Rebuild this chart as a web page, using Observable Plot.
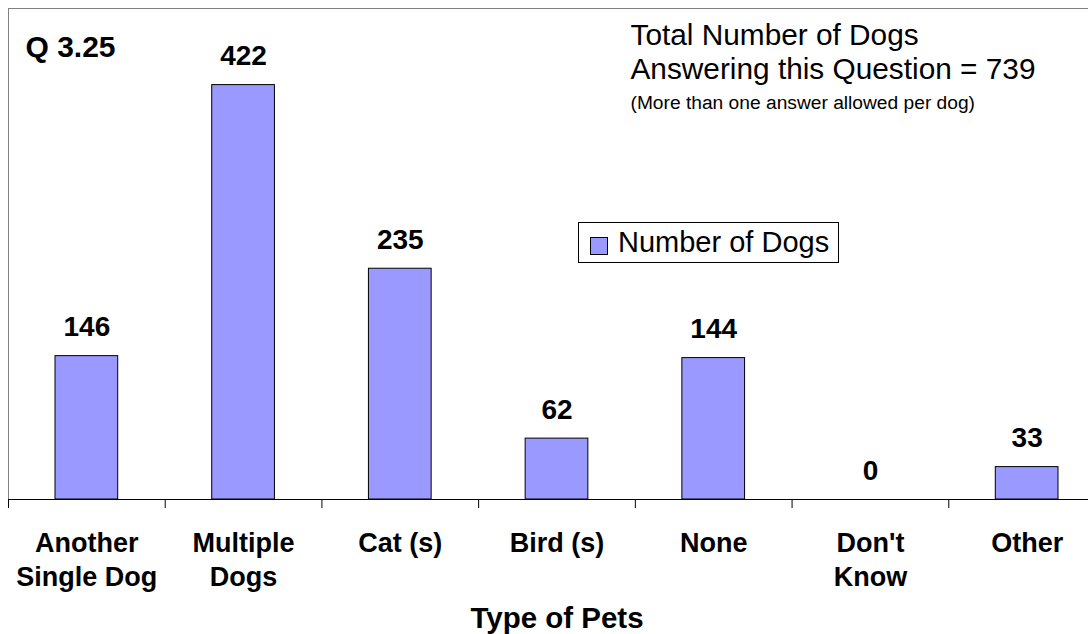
<!DOCTYPE html>
<html>
<head>
<meta charset="utf-8">
<script src="https://cdn.jsdelivr.net/npm/d3@7"></script>
<script src="https://cdn.jsdelivr.net/npm/@observablehq/plot@0.6"></script>
<style>
  html, body { margin: 0; padding: 0; background: white; overflow: hidden; }
  #wrap { position: relative; width: 1088px; height: 634px; overflow: hidden; font-family: "Liberation Sans", Arial, sans-serif; }
  #legend { position: absolute; left: 578px; top: 222px; width: 261px; height: 41px; border: 1px solid #000; box-sizing: border-box; background: white; }
  #legend .sw { position: absolute; left: 11px; top: 14px; width: 18px; height: 18px; background: #9999ff; border: 1px solid #000; box-sizing: border-box; }
  #legend .lb { position: absolute; left: 39px; top: 3px; font-size: 29px; line-height: 33px; color: #000; white-space: nowrap; }
</style>
</head>
<body>
<div id="wrap"></div>
<script>
const categories = ["Another\nSingle Dog", "Multiple\nDogs", "Cat (s)", "Bird (s)", "None", "Don't\nKnow", "Other"];
const counts = [146, 422, 235, 62, 144, 0, 33];
const seriesName = "Number of Dogs";
const xTitle = "Type of Pets";
const questionLabel = "Q 3.25";
const noteLines = ["Total Number of Dogs", "Answering this Question = 739"];
const noteSmall = "(More than one answer allowed per dog)";

const data = categories.map((c, i) => ({cat: c, n: counts[i]}));
const font = "Liberation Sans, Arial, sans-serif";

const chart = Plot.plot({
  width: 1088,
  height: 634,
  marginTop: 8,
  marginLeft: 8,
  marginRight: -17,
  marginBottom: 135,
  style: {fontFamily: font, background: "white", color: "black"},
  x: {domain: categories, padding: 0, round: false, axis: null},
  y: {domain: [0, 500], axis: null},
  marks: [
    Plot.frame({stroke: "#808080"}),
    Plot.barY(data, {x: "cat", y: "n", fill: "#9999ff", stroke: "black", strokeWidth: 1, insetLeft: 47, insetRight: 47}),
    Plot.ruleY([0], {stroke: "black", strokeWidth: 1}),
    Plot.ruleX(categories, {x: d => d, y1: 0, y2: -9.2, dx: -78.36, stroke: "black"}),
    Plot.text(data, {x: "cat", y: "n", text: d => String(d.n), dy: -20, lineAnchor: "bottom", fontWeight: "bold", fontSize: 28, fill: "black"}),
    Plot.text(categories, {x: d => d, frameAnchor: "bottom", dy: 28, lineAnchor: "top", text: d => d, fontSize: 27, fontWeight: "bold", lineHeight: 1.26, fill: "black"}),
    Plot.text([xTitle], {frameAnchor: "bottom", dy: 128, lineAnchor: "bottom", text: d => d, fontSize: 29.5, fontWeight: "bold", fill: "black"}),
    Plot.text([questionLabel], {frameAnchor: "top-left", dx: 17, dy: 48, lineAnchor: "bottom", textAnchor: "start", text: d => d, fontSize: 30, fontWeight: "bold", fill: "black"}),
    Plot.text([noteLines[0]], {frameAnchor: "top-left", dx: 622, dy: 36, lineAnchor: "bottom", textAnchor: "start", text: d => d, fontSize: 29.8, fill: "black"}),
    Plot.text([noteLines[1]], {frameAnchor: "top-left", dx: 622, dy: 70, lineAnchor: "bottom", textAnchor: "start", text: d => d, fontSize: 29.8, fill: "black"}),
    Plot.text([noteSmall], {frameAnchor: "top-left", dx: 622, dy: 100, lineAnchor: "bottom", textAnchor: "start", text: d => d, fontSize: 19.2, fill: "black"})
  ]
});

const wrap = document.getElementById("wrap");
wrap.appendChild(chart);
const legend = document.createElement("div");
legend.id = "legend";
legend.innerHTML = `<div class="sw"></div><div class="lb"></div>`;
legend.querySelector(".lb").textContent = seriesName;
wrap.appendChild(legend);
</script>
</body>
</html>
